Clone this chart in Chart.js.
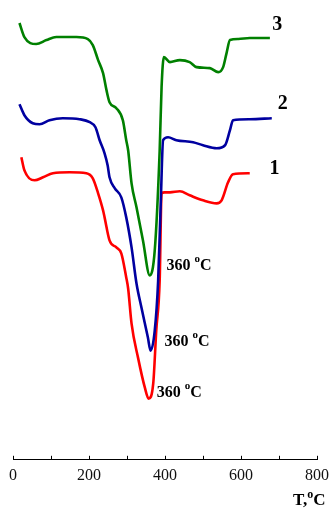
<!DOCTYPE html>
<html>
<head>
<meta charset="utf-8">
<script src="https://cdn.jsdelivr.net/npm/chart.js@4/dist/chart.umd.min.js"></script>
<style>
    html, body { margin: 0; padding: 0; background: #ffffff; }
    canvas { display: block; }
</style>
</head>
<body>
<canvas id="chart" width="331" height="509"></canvas>
<script>
// curve 3 (green)
var temp3 = [17, 30, 61, 88, 114, 167, 197, 210, 224, 237, 246, 254, 272, 289, 298, 303, 312, 325, 342, 360, 373, 386, 391, 397, 413, 439, 465, 483, 518, 540, 553, 562, 571, 593, 623, 676];
var val3 = [436, 422, 415, 419, 422, 422, 420, 414, 399, 386, 369, 357, 351, 339, 319, 309, 276, 252, 219, 184, 209, 309, 372, 402, 397, 399, 397, 392, 391, 387, 392, 406, 419, 420, 421, 421];
// curve 2 (blue)
var temp2 = [17, 30, 52, 70, 96, 131, 175, 202, 217, 228, 241, 249, 254, 268, 285, 298, 312, 325, 338, 355, 362, 373, 382, 389, 395, 408, 430, 474, 500, 536, 558, 571, 579, 623, 681];
var val2 = [355, 344, 336, 335, 339, 341, 340, 337, 332, 319, 306, 294, 282, 271, 262, 242, 212, 176, 152, 122, 109, 129, 179, 259, 319, 322, 319, 317, 314, 311, 314, 329, 339, 340, 341];
// curve 1 (red)
var temp1 = [22, 30, 57, 79, 105, 149, 193, 210, 224, 237, 241, 254, 272, 285, 298, 303, 312, 329, 347, 357, 369, 377, 386, 391, 399, 413, 439, 465, 500, 536, 549, 566, 579, 623];
var val1 = [302, 289, 279, 282, 286, 287, 286, 281, 266, 249, 242, 219, 212, 206, 182, 171, 136, 102, 72, 61, 76, 129, 179, 266, 267, 267, 268, 264, 259, 256, 259, 277, 285, 286];

var xTicks = [0, 100, 200, 300, 400, 500, 600, 700, 800];
var curveLabels = ['1', '2', '3'];
var peakLabel = '360';

function toPoints(xs, ys) {
    return xs.map(function (x, i) { return { x: x, y: ys[i] }; });
}

var serif = "'Liberation Serif', 'Times New Roman', serif";

function drawSup(ctx, x, y, main, sup, tail, size) {
    ctx.font = 'bold ' + size + 'px ' + serif;
    ctx.fillText(main, x, y);
    x += ctx.measureText(main).width;
    ctx.font = 'bold ' + Math.round(size * 0.7) + 'px ' + serif;
    ctx.fillText(sup, x, y - size * 0.38);
    x += ctx.measureText(sup).width;
    ctx.font = 'bold ' + size + 'px ' + serif;
    ctx.fillText(tail, x, y);
}

var textPlugin = {
    id: 'texts',
    afterDraw: function (chart) {
        var ctx = chart.ctx;
        var xs = chart.scales.x;
        var ys = chart.scales.y;
        var bottom = chart.chartArea.bottom;
        ctx.save();
        // inward tick marks
        ctx.strokeStyle = '#000000';
        ctx.lineWidth = 1;
        xTicks.forEach(function (v) {
            var px = Math.round(xs.getPixelForValue(v)) + 0.5;
            ctx.beginPath();
            ctx.moveTo(px, bottom);
            ctx.lineTo(px, bottom - 4);
            ctx.stroke();
        });
        ctx.fillStyle = '#000000';
        ctx.textBaseline = 'middle';
        ctx.textAlign = 'left';
        // curve numbers
        ctx.font = 'bold 20px ' + serif;
        ctx.fillText(curveLabels[2], xs.getPixelForValue(682), ys.getPixelForValue(434));
        ctx.fillText(curveLabels[1], xs.getPixelForValue(697), ys.getPixelForValue(355));
        ctx.fillText(curveLabels[0], xs.getPixelForValue(675), ys.getPixelForValue(290));
        // peak temperatures
        drawSup(ctx, xs.getPixelForValue(404), ys.getPixelForValue(194), peakLabel + ' ', 'o', 'C', 16);
        drawSup(ctx, xs.getPixelForValue(399), ys.getPixelForValue(118), peakLabel + ' ', 'o', 'C', 16);
        drawSup(ctx, xs.getPixelForValue(378), ys.getPixelForValue(67), peakLabel + ' ', 'o', 'C', 16);
        // axis title
        drawSup(ctx, 293, 501, 'T,', 'o', 'C', 17);
        ctx.restore();
    }
};

new Chart(document.getElementById('chart'), {
    type: 'line',
    data: {
        datasets: [
            { data: toPoints(temp3, val3), borderColor: '#008000' },
            { data: toPoints(temp2, val2), borderColor: '#0000a0' },
            { data: toPoints(temp1, val1), borderColor: '#ff0000' }
        ]
    },
    options: {
        responsive: false,
        animation: false,
        devicePixelRatio: 1,
        layout: { padding: { top: 9, left: 13, right: 14, bottom: 18 } },
        elements: {
            point: { radius: 0 },
            line: { borderWidth: 2.6, cubicInterpolationMode: 'monotone', fill: false }
        },
        plugins: {
            legend: { display: false },
            tooltip: { enabled: false }
        },
        scales: {
            x: {
                type: 'linear',
                min: 0,
                max: 800,
                grid: { display: true, drawOnChartArea: false, drawTicks: false },
                border: { display: true, color: '#000000', width: 1 },
                ticks: {
                    stepSize: 100,
                    padding: 6,
                    maxRotation: 0,
                    autoSkip: false,
                    color: '#111111',
                    font: { family: serif, size: 16 },
                    callback: function (v) { return v % 200 === 0 ? String(v) : ''; }
                },
                afterFit: function (scale) {
                    scale.paddingLeft = 0;
                    scale.paddingRight = 0;
                }
            },
            y: {
                display: false,
                min: 0,
                max: 450
            }
        }
    },
    plugins: [textPlugin]
});
</script>
</body>
</html>
